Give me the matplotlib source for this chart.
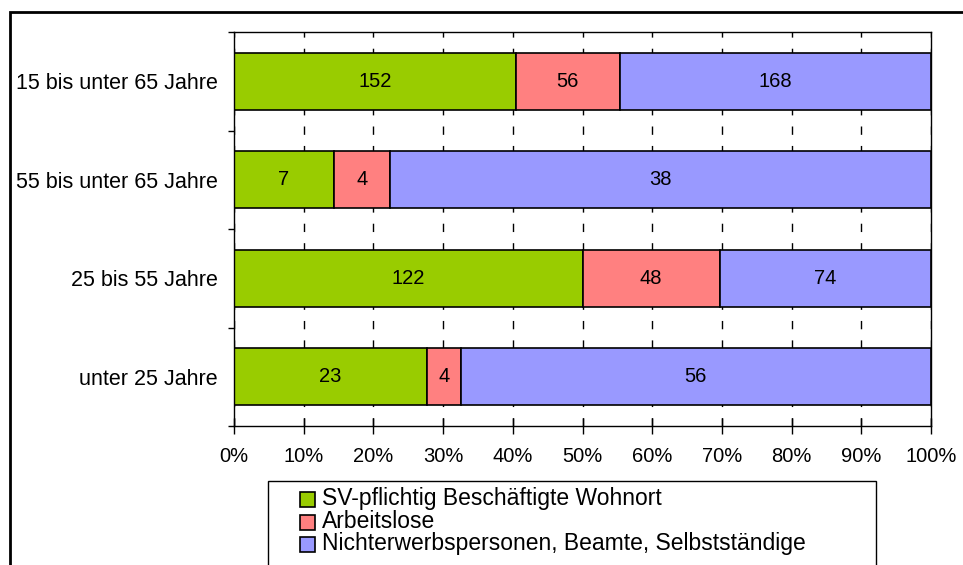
import matplotlib
matplotlib.use("Agg")
import matplotlib.pyplot as plt
from matplotlib.patches import Rectangle
import numpy as np

categories = ["unter 25 Jahre", "25 bis 55 Jahre", "55 bis unter 65 Jahre", "15 bis unter 65 Jahre"]
series_names = ["SV-pflichtig Beschäftigte Wohnort", "Arbeitslose",
                "Nichterwerbspersonen, Beamte, Selbstständige"]
sv = [23, 122, 7, 152]
arbeitslose = [4, 48, 4, 56]
nichterwerb = [56, 74, 38, 168]
colors = ["#99CC00", "#FF8080", "#9999FF"]
xtick_values = [0, 10, 20, 30, 40, 50, 60, 70, 80, 90, 100]

plt.rcParams['font.family'] = ['Liberation Sans', 'DejaVu Sans']

W, H = 963, 565
fig = plt.figure(figsize=(W/100, H/100), dpi=100)
ax = fig.add_axes([234/W, 1-426/H, (931-234)/W, (426-32)/H])

data = np.array([sv, arbeitslose, nichterwerb], dtype=float)
totals = data.sum(axis=0)
pct = data / totals * 100
y = np.arange(len(categories))
left = np.zeros(len(categories))
for i in range(3):
    ax.barh(y, pct[i], left=left, height=0.58, color=colors[i],
            edgecolor="black", linewidth=1.2, zorder=3)
    for j in range(len(categories)):
        ax.text(left[j] + pct[i][j] / 2, y[j], f"{int(data[i][j])}",
                ha="center", va="center", fontsize=14.5, zorder=4)
    left += pct[i]

ax.set_xlim(0, 100)
ax.set_ylim(-0.5, len(categories) - 0.5)
ax.set_xticks(xtick_values)
ax.set_xticklabels([f"{v}%" for v in xtick_values], fontsize=14.5)
ax.tick_params(axis="x", direction="inout", length=12, width=1, pad=9)
ax.set_yticks(y)
ax.set_yticklabels(categories, fontsize=15.5)
ax.tick_params(axis="y", which="major", length=0, pad=11.5)
ax.set_yticks(np.arange(-0.5, len(categories), 1.0), minor=True)
ax.tick_params(axis="y", which="minor", length=4.5, width=1, direction="out")
ax.xaxis.grid(True, color="black", linestyle=(0, (6, 8)), linewidth=1, zorder=0)
ax.set_axisbelow(True)
for s in ax.spines.values():
    s.set_color("black")
    s.set_linewidth(1)
    s.set_zorder(5)

# outer frame
fig.patches.append(Rectangle((10/W, -0.1), 1.1, 1 - 12/H + 0.1,
                             transform=fig.transFigure, fill=False,
                             edgecolor="black", linewidth=2, zorder=0))

# legend (drawn manually to match the tight row spacing)
fig.patches.append(Rectangle((268/W, -0.1), (876-268)/W, 0.1 + 1 - 481/H,
                             transform=fig.transFigure, fill=False,
                             edgecolor="black", linewidth=1, zorder=0))
row_centers = [499.5, 522, 544.5]
for name, c, yc in zip(series_names, colors, row_centers):
    fig.patches.append(Rectangle((300/W, 1 - (yc + 7.5)/H), 15/W, 15/H,
                                 transform=fig.transFigure, facecolor=c,
                                 edgecolor="black", linewidth=1.2, zorder=2))
    fig.text(322/W, 1 - (yc + 5.5)/H, name, ha="left", va="baseline",
             fontsize=16.5, zorder=3)

fig.savefig("out.png", dpi=100)
